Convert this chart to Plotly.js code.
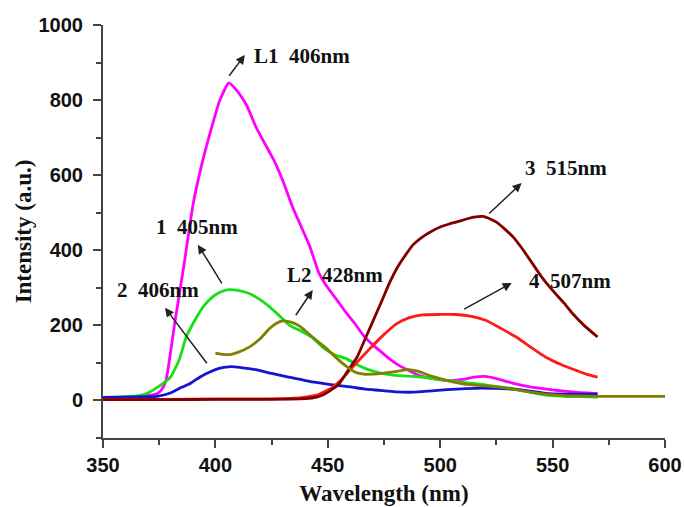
<!DOCTYPE html>
<html>
<head>
<meta charset="utf-8">
<script src="https://cdn.plot.ly/plotly-3.0.1.min.js"></script>
<style>
html,body{margin:0;padding:0;background:#fff;}
#chart{width:684px;height:507px;}
</style>
</head>
<body>
<div id="chart"></div>
<script>
// Curve L1 (magenta)
var xL1 = [350,355,360,365,370,374,376,378,382,386,390,394,398,402,406,410,414,418,422,426,430,434,438,442,446,450,454,458,462,466,470,474,478,482,486,490,495,500,505,510,515,520,525,530,535,540,545,550,555,560,565,570];
var yL1 = [8,8,9,10,13,18,28,53,210,360,520,630,720,800,846,822,785,729,684,640,585,520,465,410,340,300,268,235,205,172,148,128,108,92,80,68,60,55,53,56,62,64,58,50,42,36,32,28,25,22,20,18];
// Curve 1 (green)
var x1 = [350,355,360,365,370,375,380,384,387,391,394.5,398,402,406,410,415,420,424,428,433,438,443,448,453,458,463,468,474,480,486,492,498,504,510,517,524,532,540,547,555,562,570];
var y1 = [8,9,10,12,20,38,62,110,169,215,249,272,288,295,293,285,268,250,228,200,185,168,140,122,112,95,82,72,67,65,62,57,53,48,44,38,32,22,14,11,10,9];
// Curve 2 (blue)
var x2 = [350,360,370,374,380,385,389,393,397.5,402,407,412,418,425,432,440,447,454,460,466,473,480,488,495,503,510,518,525,532,540,547,555,562,570];
var y2 = [8,9,10,11,20,35,46,62,76,86,90,87,82,72,63,53,46,40,36,31,27,23,22,25,29,31,33,32,30,25,19,17,17,17];
// Curve 3 (dark red)
var x3 = [350,380,400,420,440,445,448,452,455,459,463,466.7,470,474,477.6,481,485,488,492,496,500,504,507,511,515,519,522,525,529,532.5,537,541,545,550,555,559,564,570];
var y3 = [2,2,3,3,5,9,15,30,44,80,115,165,210,265,315,355,391,415,435,450,462,470,475,482,488,490,484,475,455,435,400,365,330,293,260,231,200,169];
// Curve 4 (red)
var x4 = [350,360,380,400,420,435,440,445,448,452,456,460,464,468.7,474,480.5,486,492,500,507,514,520.5,527,533.8,540,547,554,560.5,565,570];
var y4 = [3,3,3,4,4,6,9,14,22,35,55,82,108,138,170,204,220,228,229,229,224,213,192,169,143,115,95,80,70,62];
// Curve L2 (olive)
var xL2 = [400,403,406.4,410,415,420,424,427,430,434,437.5,442,446,450,454,458,462,466,470,475,480,486,490,495,500,505,510,517,525,532,540,547,555,562,570,580,590,600];
var yL2 = [126,123,122,128,142,165,191,205,212,208,198,175,155,135,112,92,76,70,70,73,77,82,78,67,58,50,44,40,36,30,22,17,13,12,11,11,11,11];

// Tick labels
var xTicks = [350,400,450,500,550,600];
var yTicks = [0,200,400,600,800,1000];

// Peak labels
var labelText = ["L1\u00a0\u00a0406nm","1\u00a0\u00a0405nm","2\u00a0\u00a0406nm","L2\u00a0\u00a0428nm","3\u00a0\u00a0515nm","4\u00a0\u00a0507nm"];
var labelX = [416.2,372.5,355.5,430.9,536.7,538.4];
var labelY = [917,462,295,335,619,318];
var arrowHeadX = [413.1,392.2,377.6,443.3,536.2,531.8];
var arrowHeadY = [920,415,247,294,579,313];
var arrowTailX = [405.6,403.3,396.7,435.3,521.1,510];
var arrowTailY = [861,308,95,223,494,241];

var lw = 2.8;
var ls = 0.5;
var traces = [
  {x:xL1, y:yL1, mode:'lines', line:{color:'#FF00FF', width:lw, shape:'spline', smoothing:ls}},
  {x:x1, y:y1, mode:'lines', line:{color:'#14E014', width:lw, shape:'spline', smoothing:ls}},
  {x:x2, y:y2, mode:'lines', line:{color:'#1414D2', width:lw, shape:'spline', smoothing:ls}},
  {x:x4, y:y4, mode:'lines', line:{color:'#FF1A1A', width:lw, shape:'spline', smoothing:ls}},
  {x:x3, y:y3, mode:'lines', line:{color:'#800000', width:lw, shape:'spline', smoothing:ls}},
  {x:xL2, y:yL2, mode:'lines', line:{color:'#7F7F00', width:lw, shape:'spline', smoothing:ls}}
];

var annFont = {family:'"Liberation Serif", "Times New Roman", serif', size:21, color:'#111', weight:'bold'};
var annotations = [];
for (var i=0;i<labelText.length;i++){
  annotations.push({x:labelX[i], y:labelY[i], xref:'x', yref:'y', text:labelText[i], showarrow:false, xanchor:'left', yanchor:'middle', font:annFont});
  annotations.push({x:arrowHeadX[i], y:arrowHeadY[i], xref:'x', yref:'y', ax:arrowTailX[i], ay:arrowTailY[i], axref:'x', ayref:'y', text:'', showarrow:true, arrowhead:2, arrowsize:1.2, arrowwidth:1.5, arrowcolor:'#222'});
}

var tickFont = {family:'"Liberation Sans", Arial, sans-serif', size:20, color:'#111', weight:'bold'};
var titleFont = {family:'"Liberation Serif", "Times New Roman", serif', size:23, color:'#111', weight:'bold'};

var layout = {
  width:684, height:507,
  margin:{l:103, r:19, t:25, b:69},
  paper_bgcolor:'#fff', plot_bgcolor:'#fff',
  showlegend:false,
  xaxis:{
    range:[350,600], tickvals:xTicks, ticktext:xTicks.map(String),
    ticks:'outside', ticklen:8, tickwidth:2, tickcolor:'#444',
    minor:{dtick:25, tick0:350, ticks:'outside', ticklen:5, tickwidth:2, tickcolor:'#444'},
    showline:true, linecolor:'#444', linewidth:2, showgrid:false, zeroline:false,
    tickfont:tickFont,
    title:{text:'Wavelength (nm)', font:titleFont, standoff:10}
  },
  yaxis:{
    range:[-100,1000], tickvals:yTicks, ticktext:yTicks.map(String),
    ticks:'outside', ticklen:8, tickwidth:2, tickcolor:'#444',
    minor:{dtick:100, tick0:0, ticks:'outside', ticklen:5, tickwidth:2, tickcolor:'#444'},
    showline:true, linecolor:'#444', linewidth:2, showgrid:false, zeroline:false,
    tickfont:tickFont, ticklabelstandoff:6,
    title:{text:'Intensity (a.u.)', font:titleFont, standoff:0}
  },
  annotations:annotations
};

Plotly.newPlot('chart', traces, layout, {displayModeBar:false, staticPlot:true});
</script>
</body>
</html>
